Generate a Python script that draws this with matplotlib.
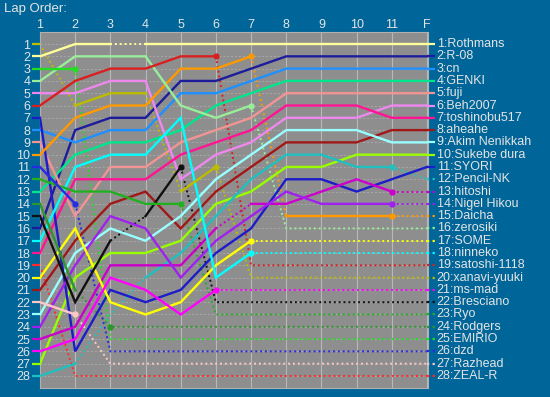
import matplotlib
matplotlib.use('Agg')
import matplotlib.pyplot as plt

plt.rcParams['font.family'] = ['Liberation Sans', 'DejaVu Sans']

# lap chart data: position of every driver after each lap (last column = final)
laps = ['1', '2', '3', '4', '5', '6', '7', '8', '9', '10', '11', 'F']

names = ['Rothmans', 'R-08', 'cn', 'GENKI', 'fuji', 'Beh2007', 'toshinobu517',
         'aheahe', 'Akim Nenikkah', 'Sukebe dura', 'SYORI', 'Pencil-NK', 'hitoshi',
         'Nigel Hikou', 'Daicha', 'zerosiki', 'SOME', 'ninneko', 'satoshi-1118',
         'xanavi-yuuki', 'ms-mad', 'Bresciano', 'Ryo', 'Rodgers', 'EMIRIO', 'dzd',
         'Razhead', 'ZEAL-R']

colors = ['#ffff99', '#1c1c9c', '#1e90ff', '#00e68c', '#f29494', '#ee88ee', '#ff1493',
          '#a01818', '#99ffff', '#99ff00', '#1c1cc8', '#20c0c0', '#cc00cc',
          '#a020f0', '#ff9900', '#99ee99', '#ffff00', '#00ffff', '#d82020',
          '#bcbc00', '#ff00ff', '#111111', '#22b022', '#2e962e', '#22dd22', '#2a2ae0',
          '#ffc8c8', '#ff2a2a']

positions = [
    [2, 1, 1, 1, 1, 1, 1, 1, 1, 1, 1, 1],
    [16, 8, 7, 7, 4, 4, 3, 2, 2, 2, 2, 2],
    [8, 9, 8, 8, 5, 5, 4, 3, 3, 3, 3, 3],
    [13, 10, 9, 9, 8, 6, 5, 4, 4, 4, 4, 4],
    [9, 15, 11, 11, 9, 8, 7, 5, 5, 5, 5, 5],
    [5, 5, 4, 4, 12, 10, 9, 7, 7, 7, 6, 6],
    [18, 12, 12, 12, 10, 9, 8, 6, 6, 6, 7, 7],
    [21, 17, 14, 13, 16, 13, 11, 9, 9, 9, 8, 8],
    [23, 18, 16, 17, 15, 12, 10, 8, 8, 8, 9, 9],
    [27, 20, 18, 18, 17, 14, 13, 11, 11, 10, 10, 10],
    [7, 26, 21, 22, 21, 18, 16, 12, 12, 13, 12, 11],
    [28, 27, 23, 20, 18, 15, 12, 10, 10, 11, 11, 12],
    [25, 24, 19, 19, 19, 16, 14, 14, 13, 12, 13, 13],
    [24, 19, 15, 16, 20, 17, 15, 13, 14, 14, 14, 14],
    [10, 7, 6, 6, 3, 3, 2, 15, 15, 15, 15, 15],
    [4, 2, 2, 2, 6, 7, 6, 16, 16, 16, 16, 16],
    [20, 16, 22, 23, 22, 19, 17, 17, 17, 17, 17, 17],
    [17, 11, 10, 10, 7, 20, 18, 18, 18, 18, 18, 18],
    [6, 4, 3, 3, 2, 2, 19, 19, 19, 19, 19, 19],
    [1, 6, 5, 5, 13, 11, 20, 20, 20, 20, 20, 20],
    [26, 25, 20, 21, 23, 21, 21, 21, 21, 21, 21, 21],
    [15, 22, 17, 15, 11, 22, 22, 22, 22, 22, 22, 22],
    [12, 13, 13, 14, 14, 23, 23, 23, 23, 23, 23, 23],
    [14, 21, 24, 24, 24, 24, 24, 24, 24, 24, 24, 24],
    [3, 3, 25, 25, 25, 25, 25, 25, 25, 25, 25, 25],
    [11, 14, 26, 26, 26, 26, 26, 26, 26, 26, 26, 26],
    [22, 23, 27, 27, 27, 27, 27, 27, 27, 27, 27, 27],
    [19, 28, 28, 28, 28, 28, 28, 28, 28, 28, 28, 28],
]

# s = running, d = not running / no data for that lap segment
status = [
    'ssdssssssss', 'sssssssssss', 'sssssssssss', 'sssssssssss', 'sssssssssss',
    'sssssssssss', 'sssssssssss', 'sssssssssss', 'sssssssssss', 'sssssssssss',
    'sssssssssss', 'sddsssssssd', 'sssssdssssd', 'ssssssssssd', 'ssssssdsssd',
    'ssssssddddd', 'ssssssddddd', 'ssssssddddd', 'sssssdddddd', 'dssdsdddddd',
    'sssssdddddd', 'ssdsddddddd', 'ssssddddddd', 'sdddddddddd', 'sdddddddddd',
    'sdddddddddd', 'sdddddddddd', 'ddddddddddd',
]

# laps where the running line stops with a dot
stops = [[], [], [], [], [], [], [], [], [], [], [], [10], [10], [10], [6, 10],
         [6], [6], [6], [5], [5], [5], [4], [4], [2], [1], [1], [1], []]

bg = '#006699'
txt = '#e4e4e4'
fs = 9

fig = plt.figure(figsize=(5.5, 3.97), dpi=100, facecolor=bg)
ax = fig.add_axes([40 / 550, 1 - 388 / 397, 388 / 550, 356 / 397])
ax.set_facecolor('#8e8e8e')
ax.set_xlim(0, 11.03)
ax.set_ylim(28.98, 0.02)

for i in range(len(laps)):
    ax.axvline(i, color='#b8b8b8', lw=0.8, zorder=1)
for r in range(1, 29):
    ax.axhline(r, color='#a8a8a8', lw=0.7, ls=(0, (2, 2)), zorder=1)

for k in range(len(names)):
    pos = positions[k]
    st = status[k]
    c = colors[k]
    # stubs outside the plot area
    ax.plot([-0.22, 0], [pos[0], pos[0]], color=c, lw=1.6, clip_on=False, zorder=3,
            solid_capstyle='butt')
    last = st[-1]
    ax.plot([11, 11.22], [pos[-1], pos[-1]], color=c, lw=1.6, clip_on=False, zorder=3,
            ls='-' if last == 's' else (0, (1, 1.5)), solid_capstyle='butt')
    # group consecutive segments with the same style
    i = 0
    while i < len(st):
        j = i
        while j + 1 < len(st) and st[j + 1] == st[i]:
            j += 1
        xs = list(range(i, j + 2))
        ys = pos[i:j + 2]
        if st[i] == 's':
            ax.plot(xs, ys, color=c, lw=1.7, zorder=3, solid_joinstyle='miter')
        else:
            ax.plot(xs, ys, color=c, lw=1.4, ls=(0, (1, 1.5)), zorder=2)
        i = j + 1
    for s in stops[k]:
        ax.plot(s, pos[s], 'o', color=c, ms=3.5, zorder=4)
    ax.text(11.28, pos[-1], '%d:%s' % (k + 1, names[k]), color=txt, fontsize=fs,
            va='center', ha='left', clip_on=False)

ax.xaxis.tick_top()
ax.set_xticks(range(len(laps)))
ax.set_xticklabels(laps)
ax.set_yticks(range(1, 29))
ax.set_yticklabels([str(r) for r in range(1, 29)])
ax.tick_params(length=0, colors=txt, labelsize=fs)
ax.tick_params(axis='y', pad=7)
ax.tick_params(axis='x', pad=1)
for sp in ax.spines.values():
    sp.set_color('#b0b0b0')
    sp.set_linewidth(0.8)

fig.text(4 / 550, 1 - 9 / 397, 'Lap Order:', color=txt, fontsize=9.5, va='center', ha='left')

fig.savefig('out.png', dpi=100, facecolor=bg)
